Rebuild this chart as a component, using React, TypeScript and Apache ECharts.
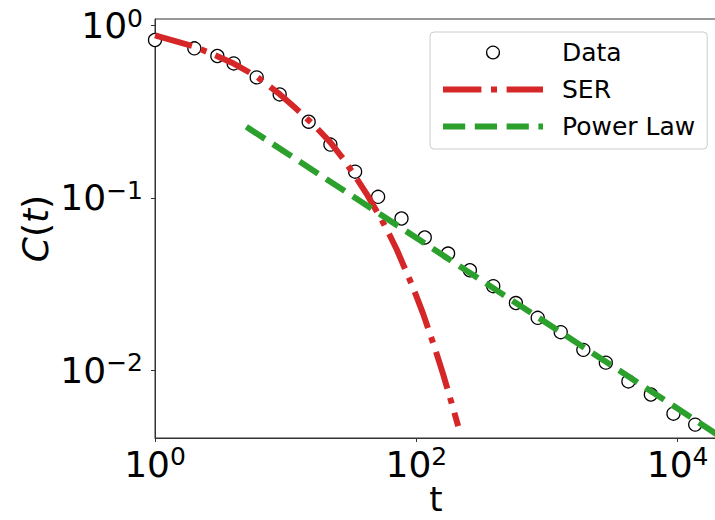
import React, { useEffect, useRef } from "react";
import * as echarts from "echarts";

// Observed data points (t, C(t))
const dataT = [1, 2, 3, 4, 6, 9, 15, 22, 34, 51, 77, 116, 175, 257, 388, 578, 849, 1274, 1897, 2820, 4199, 6235, 9286, 13620];
const dataC = [0.826, 0.739, 0.667, 0.604, 0.501, 0.399, 0.277, 0.204, 0.142, 0.1014, 0.0759, 0.0589, 0.0475, 0.038, 0.0307, 0.0245, 0.0201, 0.0166, 0.0131, 0.01104, 0.00859, 0.00721, 0.00558, 0.00482];

// SER fit curve
const serT = [1, 2, 3, 4, 6, 9, 12, 16.7, 22, 28, 34.8, 41.5, 54.1, 62.6, 70.5, 91.9, 100.4, 112.8, 138.6, 160.3, 191.4, 209];
const serC = [0.88, 0.757, 0.665, 0.603, 0.507, 0.4, 0.33, 0.262, 0.21, 0.166, 0.13, 0.106, 0.075, 0.0607, 0.0505, 0.0316, 0.0267, 0.0212, 0.0134, 0.00948, 0.00598, 0.00472];

// Power-law fit, straight line in log-log
const powT = [5, 20000];
const powC = [0.259, 0.00423];

// Axis ranges and ticks
const xMin = 1;
const xMax = 20000;
const yMin = 0.00403;
const yMax = 1.094;
const xTicks = [1, 100, 10000];
const yTicks = [0.01, 0.1, 1];

const FONT = "DejaVu Sans";

function pow10Label(v: number): string {
  const l = Math.log10(v);
  const e = Math.round(l);
  if (Math.abs(l - e) > 1e-6) return "";
  const s = e < 0 ? "\u2212" + String(-e) : String(e);
  return "{m|10}{s|" + s + "}";
}

const labelRich = {
  m: { fontSize: 36, fontFamily: FONT, color: "#000", lineHeight: 40 },
  s: { fontSize: 25, fontFamily: FONT, color: "#000", lineHeight: 14, verticalAlign: "top" },
};

export default function App() {
  const ref = useRef<HTMLDivElement>(null);
  useEffect(() => {
    if (!ref.current) return;
    const chart = echarts.init(ref.current, undefined, { renderer: "svg" });
    const zip = (a: number[], b: number[]) => a.map((t, i) => [t, b[i]]);
    chart.setOption({
      animation: false,
      backgroundColor: "#fff",
      grid: {
        left: 155,
        right: -2,
        top: 19,
        bottom: 82,
        containLabel: false,
        outerBoundsMode: "none",
        show: true,
        borderColor: "#333",
        borderWidth: 1,
        backgroundColor: "transparent",
      },
      xAxis: {
        type: "log",
        min: xMin,
        max: xMax,
        interval: 2,
        name: "t",
        nameLocation: "middle",
        nameGap: 46,
        nameMoveOverlap: false,
        nameTextStyle: { fontSize: 34, fontFamily: FONT, color: "#000", lineHeight: 30 },
        axisLine: { show: true, onZero: false, lineStyle: { color: "#333", width: 1 } },
        axisTick: { show: true, length: 4, inside: false, lineStyle: { color: "#333", width: 1 }, customValues: xTicks },
        minorTick: { show: false },
        splitLine: { show: false },
        axisLabel: { formatter: pow10Label, rich: labelRich, margin: 6, customValues: xTicks },
      },
      yAxis: {
        type: "log",
        min: yMin,
        max: yMax,
        interval: 1,
        name: "{i|C}{n|(}{i|t}{n|)}",
        nameLocation: "middle",
        nameGap: 102,
        nameMoveOverlap: false,
        nameRotate: 90,
        nameTextStyle: {
          rich: {
            i: { fontSize: 36, fontFamily: FONT, fontStyle: "italic", color: "#000" },
            n: { fontSize: 36, fontFamily: FONT, color: "#000" },
          },
        },
        axisLine: { show: true, onZero: false, lineStyle: { color: "#333", width: 1 } },
        axisTick: { show: true, length: 4, lineStyle: { color: "#333", width: 1 }, customValues: yTicks },
        minorTick: { show: false },
        splitLine: { show: false },
        axisLabel: { formatter: pow10Label, rich: labelRich, margin: 12, customValues: yTicks },
      },
      legend: {
        orient: "vertical",
        left: 430,
        top: 32,
        padding: [8, 12, 10, 10],
        itemGap: 12,
        itemWidth: 100,
        itemHeight: 16,
        backgroundColor: "rgba(255,255,255,0.8)",
        borderColor: "#cccccc",
        borderWidth: 1,
        borderRadius: 4,
        textStyle: { fontSize: 25, fontFamily: FONT, color: "#000", padding: [0, 0, 0, 14], lineHeight: 25 },
        data: [
          {
            name: "Data",
            itemStyle: { color: "#fff", borderColor: "#000", borderWidth: 1.3 },
            lineStyle: { width: 0, opacity: 0 },
          },
          {
            name: "SER",
            itemStyle: { opacity: 0 },
            lineStyle: { width: 6, color: "#d62728", type: [38.4, 9.6, 6, 9.6] },
          },
          {
            name: "Power Law",
            itemStyle: { opacity: 0 },
            lineStyle: { width: 6, color: "#2ca02c", type: [22.2, 9.6] },
          },
        ],
      },
      series: [
        {
          name: "Data",
          type: "line",
          z: 1,
          data: zip(dataT, dataC),
          symbol: "circle",
          symbolSize: 13,
          showSymbol: true,
          showAllSymbol: true,
          lineStyle: { width: 0, opacity: 0 },
          itemStyle: { color: "#fff", borderColor: "#000", borderWidth: 1.3 },
        },
        {
          name: "SER",
          type: "line",
          z: 2,
          data: zip(serT, serC),
          showSymbol: false,
          symbol: "none",
          lineStyle: { width: 6, color: "#d62728", type: [38.4, 9.6, 6, 9.6], cap: "butt" },
          itemStyle: { color: "#d62728" },
        },
        {
          name: "Power Law",
          type: "line",
          z: 3,
          data: zip(powT, powC),
          showSymbol: false,
          symbol: "none",
          lineStyle: { width: 6, color: "#2ca02c", type: [22.2, 9.6], cap: "butt" },
          itemStyle: { color: "#2ca02c" },
        },
      ],
    });
    return () => chart.dispose();
  }, []);
  return (
    <div
      ref={ref}
      style={{ position: "fixed", left: 0, top: 0, width: 715, height: 520, background: "#fff" }}
    />
  );
}
